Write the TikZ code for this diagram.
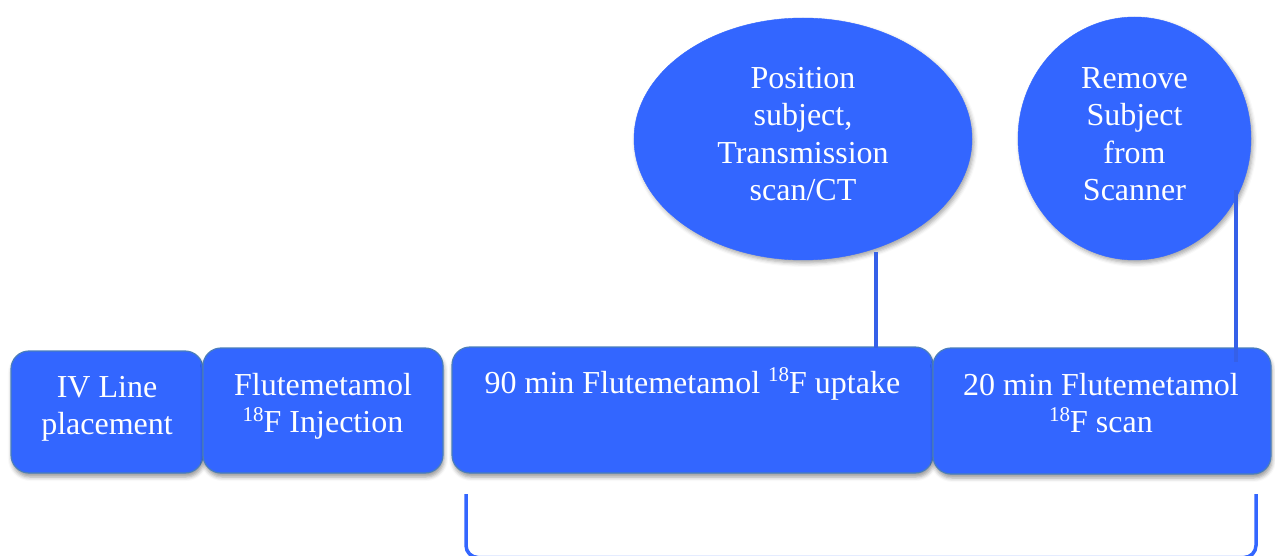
\documentclass[tikz,border=0pt]{standalone}
\usepackage{fontspec}
\setmainfont{Liberation Serif}
\usetikzlibrary{shapes.geometric,shadows.blur}
\definecolor{stepblue}{HTML}{3366FF}
\definecolor{stepedge}{HTML}{4A7EBB}
\definecolor{linkblue}{HTML}{3560E8}
\newcommand{\isotope}{\raisebox{0.36em}{\fontsize{21}{21}\selectfont 18}}
\begin{document}
\begin{tikzpicture}[x=1pt,y=-1pt,
  stepbox/.style={rectangle, rounded corners=18pt, fill=stepblue, draw=stepedge,
    line width=1.2pt, inner sep=0pt,
    blur shadow={shadow xshift=1pt, shadow yshift=-4pt, shadow blur radius=4pt, shadow opacity=40}},
  bubble/.style={ellipse, fill=stepblue, draw=stepblue, inner sep=0pt,
    blur shadow={shadow xshift=2pt, shadow yshift=-3pt, shadow blur radius=4pt, shadow opacity=35}},
  txt/.style={text=white, align=center, inner sep=0pt, anchor=north,
    font=\fontsize{32}{37.5}\selectfont},
  link/.style={draw=linkblue, line width=3.5pt},
  bracketline/.style={draw=stepblue, line width=3.5pt, rounded corners=12pt}]
\useasboundingbox (0,0) rectangle (1275,556);

% timeline steps
\node[stepbox, minimum width=192pt, minimum height=122pt] (b1) at (107,412) {};
\node[stepbox, minimum width=240pt, minimum height=125pt] (b2) at (323,410.5) {};
\node[stepbox, minimum width=481pt, minimum height=126pt] (b3) at (692.5,410) {};
\node[stepbox, minimum width=338pt, minimum height=126pt] (b4) at (1102,411) {};

\node[txt] (t1) at (107,370.75) {\strut IV Line\\placement};
\node[txt] (t2) at (323,368.75) {\strut Flutemetamol\\\isotope F Injection};
\node[txt] (t3) at (692.5,366.75) {\strut 90 min Flutemetamol \isotope F uptake};
\node[txt] (t4) at (1101,368.75) {\strut 20 min Flutemetamol\\\isotope F scan};

% events during the scan
\node[bubble, minimum width=338pt, minimum height=242pt] (e1) at (803,139) {};
\node[bubble, minimum width=233pt, minimum height=243pt] (e2) at (1134.5,138.5) {};

\node[txt] (te1) at (803,61.75) {\strut Position\\subject,\\Transmission\\scan/CT};
\node[txt] (te2) at (1134.5,61.75) {\strut Remove\\Subject\\from\\Scanner};

% connectors from events to steps
\coordinate (c1) at (876,252);
\coordinate (c2) at (1236,190);
\draw[link] (c1) -- ([yshift=-2pt]c1 |- b3.north);
\draw[link] (c2) -- ([yshift=-15pt]c2 |- b4.north);

% bracket under uptake and scan
\coordinate (bl) at (466,494);
\coordinate (brr) at (1256,494);
\draw[bracketline] (bl) -- ++(0,63.5) -| (brr);
\end{tikzpicture}
\end{document}
